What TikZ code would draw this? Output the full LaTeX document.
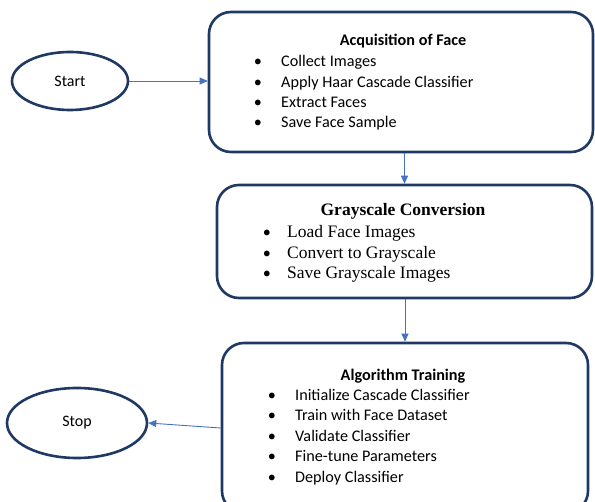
\documentclass[tikz,border=0pt]{standalone}
\usepackage{fontspec}
\setmainfont{Carlito}
\newfontfamily\timesfont{Liberation Serif}
\usetikzlibrary{shapes.geometric,arrows.meta}
\definecolor{boxline}{RGB}{32,56,100}
\definecolor{flowline}{RGB}{68,114,196}

\tikzset{
  term/.style={ellipse, draw=boxline, line width=2.6pt, inner sep=0pt,
    font=\fontsize{16}{19}\selectfont},
  stagebox/.style={draw=boxline, line width=2.6pt, rounded corners=22pt, inner sep=0pt},
  flow/.style={draw=flowline, line width=0.9pt, -{Triangle[length=8pt,width=7pt]}},
  item/.style={anchor=base west, inner sep=0pt, font=\fontsize{16.2}{19}\selectfont},
  bul/.style={anchor=base, inner sep=0pt, font=\fontsize{16.2}{19}\selectfont},
  head/.style={anchor=base, inner sep=0pt, font=\fontsize{16.2}{19}\selectfont\bfseries},
}

\begin{document}
\begin{tikzpicture}[x=1pt,y=1pt,yscale=-1,xscale=1]
\clip (0,0) rectangle (595,502);

% terminals
\node[term, minimum width=116pt, minimum height=58pt] (start) at (70,81) {Start};
\node[term, minimum width=140pt, minimum height=70pt] (stop) at (77,423) {Stop};

% stage boxes
\node[stagebox, minimum width=384pt, minimum height=140pt] (acq) at (401,82) {};
\node[stagebox, minimum width=375pt, minimum height=113pt] (gray) at (404.5,241.5) {};
\node[stagebox, minimum width=366pt, minimum height=170pt] (train) at (405,428) {};

% box texts
\node[head] (acqt) at (403,45.5) {Acquisition of Face};
\foreach \txt [count=\i] in {Collect Images, Apply Haar Cascade Classifier,
    Extract Faces, Save Face Sample} {
  \node[bul] (acqb\i) at (258,46.8+20.2*\i) {\textbullet};
  \node[item] (acqi\i) at (281,46.8+20.2*\i) {\txt};
}

\node[head, font=\fontsize{17.5}{20}\selectfont\timesfont\bfseries] (grayt) at (403,216) {Grayscale Conversion};
\foreach \txt [count=\i] in {Load Face Images, Convert to Grayscale,
    Save Grayscale Images} {
  \node[bul] (grayb\i) at (267,217.5+20.5*\i) {\textbullet};
  \node[item, font=\fontsize{17.5}{20}\selectfont\timesfont] (grayi\i) at (287,217.5+20.5*\i) {\txt};
}

\node[head] (traint) at (403,380.5) {Algorithm Training};
\foreach \txt [count=\i] in {Initialize Cascade Classifier, Train with Face Dataset,
    Validate Classifier, Fine-tune Parameters, Deploy Classifier} {
  \node[bul] (trainb\i) at (272,380+20.5*\i) {\textbullet};
  \node[item] (traini\i) at (295,380+20.5*\i) {\txt};
}

% connectors
\draw[flow] (start.east) -- (start.east -| acq.west);
\draw[flow] (gray.north |- acq.south) -- (gray.north);
\draw[flow] (train.north |- gray.south) -- (train.north);
\draw[flow] (train.west) -- (stop.east);
\end{tikzpicture}
\end{document}
